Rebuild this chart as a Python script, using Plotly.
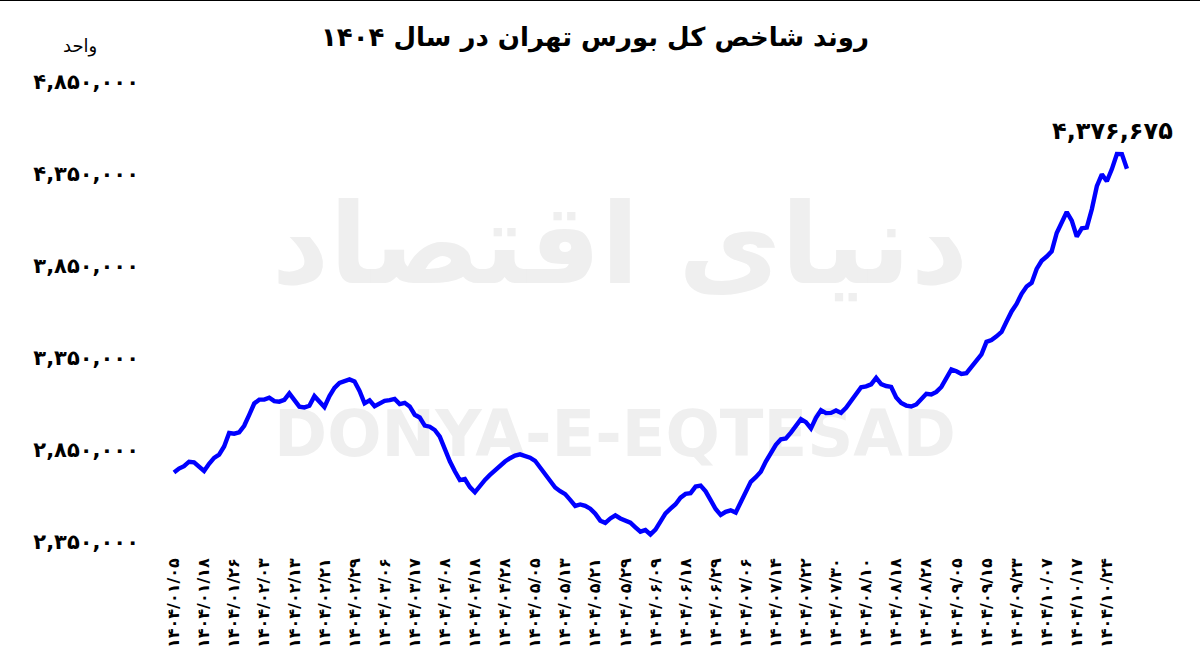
import plotly.graph_objects as go

# ---------------- data ----------------
date_labels = [
    "۱۴۰۴/۰۱/۰۵", "۱۴۰۴/۰۱/۱۸", "۱۴۰۴/۰۱/۲۶", "۱۴۰۴/۰۲/۰۳", "۱۴۰۴/۰۲/۱۳",
    "۱۴۰۴/۰۲/۲۱", "۱۴۰۴/۰۲/۲۹", "۱۴۰۴/۰۳/۰۶", "۱۴۰۴/۰۳/۱۷", "۱۴۰۴/۰۴/۰۸",
    "۱۴۰۴/۰۴/۱۸", "۱۴۰۴/۰۴/۲۸", "۱۴۰۴/۰۵/۰۵", "۱۴۰۴/۰۵/۱۳", "۱۴۰۴/۰۵/۲۱",
    "۱۴۰۴/۰۵/۲۹", "۱۴۰۴/۰۶/۰۹", "۱۴۰۴/۰۶/۱۸", "۱۴۰۴/۰۶/۲۹", "۱۴۰۴/۰۷/۰۶",
    "۱۴۰۴/۰۷/۱۴", "۱۴۰۴/۰۷/۲۲", "۱۴۰۴/۰۷/۳۰", "۱۴۰۴/۰۸/۱۰", "۱۴۰۴/۰۸/۱۸",
    "۱۴۰۴/۰۸/۲۸", "۱۴۰۴/۰۹/۰۵", "۱۴۰۴/۰۹/۱۵", "۱۴۰۴/۰۹/۲۳", "۱۴۰۴/۱۰/۰۷",
    "۱۴۰۴/۱۰/۱۷", "۱۴۰۴/۱۰/۲۴",
]
label_every = 6  # one date label every 6 trading days

index_values = [
    2728000, 2749000, 2762000, 2786000, 2782000, 2759000, 2736000, 2775000, 2807000, 2824000,
    2869000, 2942000, 2938000, 2946000, 2981000, 3040000, 3102000, 3123000, 3123000, 3134000,
    3115000, 3112000, 3122000, 3157000, 3118000, 3085000, 3081000, 3090000, 3142000, 3112000,
    3083000, 3142000, 3187000, 3214000, 3225000, 3233000, 3222000, 3170000, 3103000, 3119000,
    3087000, 3099000, 3116000, 3120000, 3127000, 3099000, 3106000, 3086000, 3041000, 3026000,
    2982000, 2976000, 2958000, 2922000, 2849000, 2788000, 2734000, 2686000, 2692000, 2648000,
    2620000, 2656000, 2687000, 2714000, 2741000, 2768000, 2787000, 2805000, 2819000, 2826000,
    2820000, 2808000, 2791000, 2754000, 2715000, 2673000, 2646000, 2626000, 2610000, 2579000,
    2546000, 2554000, 2546000, 2531000, 2504000, 2466000, 2454000, 2478000, 2495000, 2478000,
    2466000, 2455000, 2430000, 2406000, 2415000, 2391000, 2417000, 2461000, 2505000, 2531000,
    2555000, 2591000, 2611000, 2615000, 2651000, 2656000, 2625000, 2577000, 2529000, 2497000,
    2514000, 2522000, 2510000, 2566000, 2623000, 2677000, 2702000, 2731000, 2787000, 2835000,
    2878000, 2908000, 2912000, 2944000, 2985000, 3017000, 3001000, 2967000, 3024000, 3066000,
    3050000, 3051000, 3064000, 3051000, 3079000, 3117000, 3156000, 3190000, 3195000, 3206000,
    3241000, 3207000, 3197000, 3192000, 3135000, 3105000, 3091000, 3086000, 3097000, 3122000,
    3155000, 3151000, 3165000, 3192000, 3246000, 3287000, 3277000, 3263000, 3267000, 3301000,
    3329000, 3369000, 3437000, 3447000, 3467000, 3491000, 3547000, 3602000, 3643000, 3698000,
    3737000, 3757000, 3833000, 3877000, 3900000, 3928000, 4028000, 4090000, 4142000, 4095000,
    4009000, 4053000, 4057000, 4157000, 4282000, 4346000, 4309000, 4375000, 4457000, 4456000,
    4376675,
]

y_tick_values = [2350000, 2850000, 3350000, 3850000, 4350000, 4850000]

title_text = "روند شاخص کل بورس تهران در سال ۱۴۰۴"
unit_text = "واحد"
watermark_fa = "دنیای اقتصاد"
watermark_en = "DONYA-E-EQTESAD"

# ---------------- helpers ----------------
FA_DIGITS = str.maketrans("0123456789", "۰۱۲۳۴۵۶۷۸۹")


def to_fa(num):
    return f"{num:,}".translate(FA_DIGITS)


x_idx = list(range(len(index_values)))
tick_positions = [i * label_every for i in range(len(date_labels))]
y_tick_text = [to_fa(v) for v in y_tick_values]

FONT = "DejaVu Sans"

# axis ranges (chosen so the layout matches the reference)
x_range = [-4.78, 194.6]
y_range = [2306560, 4912960]

fig = go.Figure()

# faint watermark drawn first so the line sits on top of it
fig.add_trace(go.Scatter(
    x=[x_range[0] + 0.47 * (x_range[1] - x_range[0]),
       x_range[0] + 0.465 * (x_range[1] - x_range[0])],
    y=[y_range[0] + 0.615 * (y_range[1] - y_range[0]),
       y_range[0] + 0.23 * (y_range[1] - y_range[0])],
    mode="text",
    text=[watermark_fa, watermark_en],
    textfont=dict(family=FONT, size=[112, 64], color="#efefef", weight="bold"),
    hoverinfo="skip",
    showlegend=False,
    cliponaxis=False,
))

fig.add_trace(go.Scatter(
    x=x_idx,
    y=index_values,
    mode="lines",
    line=dict(color="#0000ff", width=4.4),
    showlegend=False,
    cliponaxis=False,
))

fig.add_annotation(
    x=x_idx[-1], y=index_values[-1], xref="x", yref="y",
    text=to_fa(index_values[-1]), showarrow=False,
    xshift=-14, yshift=38,
    font=dict(family=FONT, size=24, color="black", weight="bold"),
)

fig.add_annotation(
    x=0.445, y=1.0667, xref="paper", yref="paper",
    text=title_text, showarrow=False, xanchor="center", yanchor="middle",
    font=dict(family=FONT, size=26, color="black", weight="bold"),
)

fig.add_annotation(
    x=-0.07, y=1.05, xref="paper", yref="paper",
    text=unit_text, showarrow=False, xanchor="center", yanchor="middle",
    font=dict(family=FONT, size=18, color="black"),
)

# thin black rule along the very top edge of the picture
fig.add_annotation(
    x=0.45, y=1.1458, xref="paper", yref="paper",
    text=" ", showarrow=False, xanchor="center", yanchor="top",
    width=1200, height=1, bgcolor="black", borderpad=0, borderwidth=0,
    font=dict(size=1),
)

fig.update_layout(
    width=1200, height=672,
    margin=dict(l=150, r=50, t=70, b=122),
    paper_bgcolor="white", plot_bgcolor="white",
    xaxis=dict(
        range=x_range,
        tickmode="array", tickvals=tick_positions, ticktext=date_labels,
        tickangle=-90, showgrid=False, zeroline=False, showline=False,
        ticks="", ticklabelstandoff=4,
        tickfont=dict(family=FONT, size=16, color="black", weight="bold"),
    ),
    yaxis=dict(
        range=y_range,
        tickmode="array", tickvals=y_tick_values, ticktext=y_tick_text,
        showgrid=False, zeroline=False, showline=False,
        ticks="", ticklabelstandoff=10,
        tickfont=dict(family=FONT, size=21, color="black", weight="bold"),
    ),
)

fig.write_html(
    "out.html",
    config={"displayModeBar": False},
    post_script="document.body.style.margin='0';document.body.style.padding='0';",
)
